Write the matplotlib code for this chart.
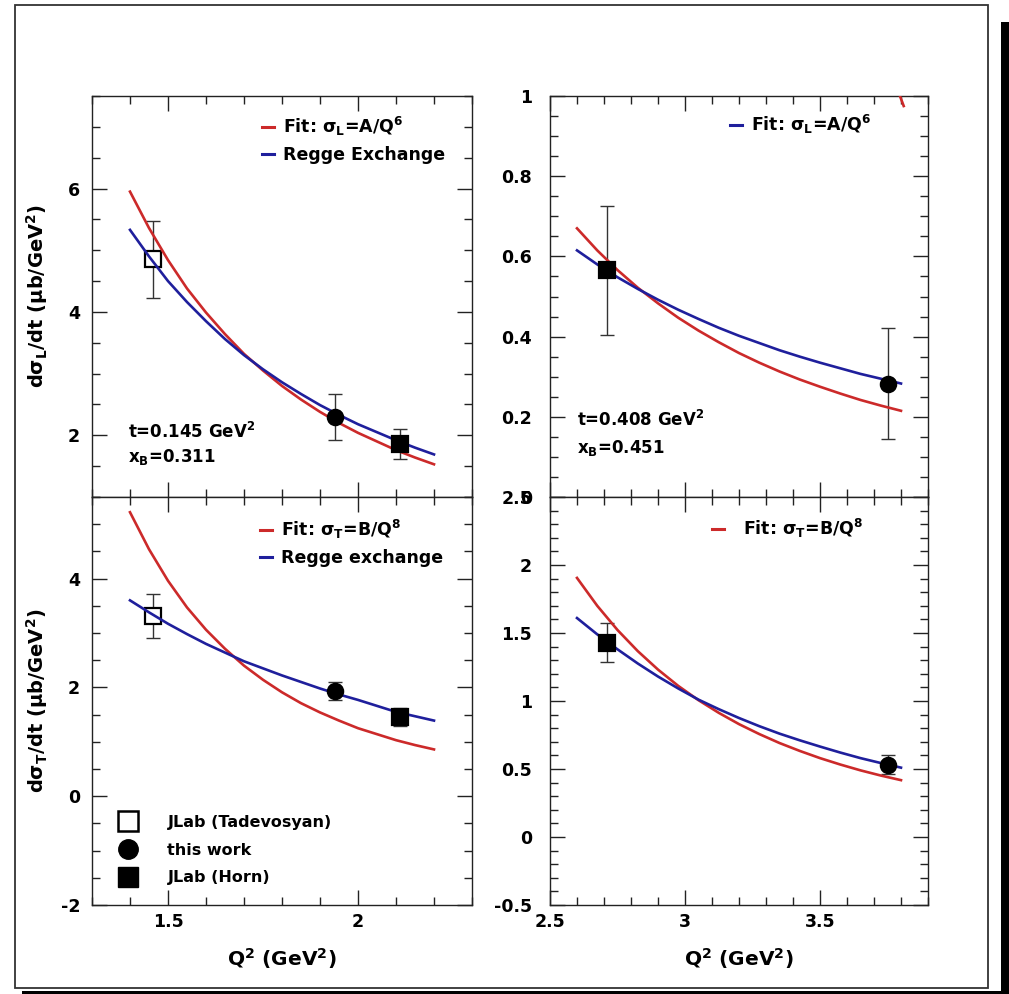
import matplotlib
matplotlib.use("Agg")
import matplotlib.pyplot as plt
from matplotlib.lines import Line2D
from matplotlib.patches import Rectangle
from matplotlib.ticker import MultipleLocator, FuncFormatter

# ---------------- data ----------------
# left panels: x_B = 0.311, t = 0.145 GeV^2
q_curve_left = [1.40, 1.45, 1.50, 1.55, 1.60, 1.65, 1.70, 1.75, 1.80,
                1.85, 1.90, 1.95, 2.00, 2.05, 2.10, 2.15, 2.20]
sigL_fit_left = [5.95, 5.36, 4.84, 4.38, 3.99, 3.64, 3.32, 3.05, 2.80,
                 2.58, 2.38, 2.20, 2.04, 1.90, 1.76, 1.64, 1.53]
sigL_regge_left = [5.33, 4.90, 4.50, 4.16, 3.85, 3.56, 3.30, 3.07, 2.86,
                   2.67, 2.49, 2.33, 2.18, 2.05, 1.92, 1.80, 1.69]
sigT_fit_left = [5.22, 4.54, 3.96, 3.47, 3.06, 2.71, 2.40, 2.14, 1.91,
                 1.71, 1.54, 1.39, 1.25, 1.14, 1.03, 0.94, 0.86]
sigT_regge_left = [3.60, 3.38, 3.17, 2.98, 2.80, 2.64, 2.48, 2.35, 2.22,
                   2.10, 1.98, 1.87, 1.77, 1.66, 1.55, 1.47, 1.39]

# right panels: x_B = 0.451, t = 0.408 GeV^2
q_curve_right = [2.600, 2.675, 2.750, 2.825, 2.900, 2.975, 3.050, 3.125, 3.200,
                 3.275, 3.350, 3.425, 3.500, 3.575, 3.650, 3.725, 3.800]
sigL_fit_right = [0.670, 0.615, 0.566, 0.522, 0.483, 0.447, 0.415, 0.386, 0.359,
                  0.335, 0.313, 0.293, 0.275, 0.258, 0.242, 0.228, 0.215]
sigL_regge_right = [0.615, 0.580, 0.548, 0.519, 0.492, 0.467, 0.444, 0.422, 0.402,
                    0.384, 0.366, 0.350, 0.335, 0.321, 0.307, 0.295, 0.283]
sigT_fit_right = [1.905, 1.70, 1.522, 1.367, 1.231, 1.111, 1.006, 0.913, 0.830,
                  0.757, 0.691, 0.633, 0.580, 0.533, 0.490, 0.452, 0.418]
sigT_regge_right = [1.61, 1.49, 1.38, 1.276, 1.18, 1.092, 1.01, 0.940, 0.875,
                    0.815, 0.76, 0.711, 0.665, 0.621, 0.58, 0.544, 0.51]
# short red piece entering the top-right frame
q_red_extra = [3.785, 3.81]
sigL_red_extra = [1.02, 0.975]

# data points, left panels
q_tad_left, q_this_left, q_horn_left = 1.46, 1.94, 2.11
sigL_tad_left, sigL_tad_left_err = 4.85, 0.63
sigL_this_left, sigL_this_left_err = 2.30, 0.37
sigL_horn_left, sigL_horn_left_err = 1.86, 0.24
sigT_tad_left, sigT_tad_left_err = 3.31, 0.40
sigT_this_left, sigT_this_left_err = 1.93, 0.17
sigT_horn_left, sigT_horn_left_err = 1.46, 0.17

# data points, right panels
q_horn_right, q_this_right = 2.71, 3.75
sigL_horn_right, sigL_horn_right_err = 0.565, 0.16
sigL_this_right, sigL_this_right_err = 0.283, 0.138
sigT_horn_right, sigT_horn_right_err = 1.43, 0.14
sigT_this_right, sigT_this_right_err = 0.53, 0.07

# ---------------- style ----------------
plt.rcParams["font.family"] = ["DejaVu Sans"]
plt.rcParams["font.weight"] = "bold"
plt.rcParams["mathtext.fontset"] = "dejavusans"
plt.rcParams["mathtext.default"] = "bf"

RED = "#cc2a2a"
BLUE = "#1f1f9c"
AXC = "#222222"
TICK_FS = 12.5
LEG_FS = 12.5
LW = 1.9

W, H = 1009, 994
fig = plt.figure(figsize=(W / 100, H / 100), dpi=100)
fig.patch.set_facecolor("white")


def rect(x0, x1, y0, y1):
    return [x0 / W, 1 - y1 / H, (x1 - x0) / W, (y1 - y0) / H]


ax_tl = fig.add_axes(rect(92, 472, 96, 497))
ax_bl = fig.add_axes(rect(92, 472, 497, 905))
ax_tr = fig.add_axes(rect(550, 928, 96, 497))
ax_br = fig.add_axes(rect(550, 928, 497, 905))

fmt = FuncFormatter(lambda v, p: f"{v:g}")


def style(ax, xlim, ylim, ymaj, ymin, show_x, ypad):
    ax.set_xlim(*xlim)
    ax.set_ylim(*ylim)
    ax.xaxis.set_major_locator(MultipleLocator(0.5))
    ax.xaxis.set_minor_locator(MultipleLocator(0.1))
    ax.yaxis.set_major_locator(MultipleLocator(ymaj))
    ax.yaxis.set_minor_locator(MultipleLocator(ymin))
    ax.xaxis.set_major_formatter(fmt)
    ax.yaxis.set_major_formatter(fmt)
    ax.tick_params(which="both", direction="in", top=True, right=True,
                   color=AXC, width=1.0, labelsize=TICK_FS, labelcolor="black")
    ax.tick_params(which="major", length=11)
    ax.tick_params(which="minor", length=5.5)
    ax.tick_params(axis="y", pad=ypad)
    ax.tick_params(axis="x", pad=6)
    if not show_x:
        ax.tick_params(axis="x", labelbottom=False)
    for s in ax.spines.values():
        s.set_color(AXC)
        s.set_linewidth(1.0)
    for lab in ax.get_xticklabels() + ax.get_yticklabels():
        lab.set_fontweight("bold")


style(ax_tl, (1.3, 2.3), (1.0, 7.5), 2, 0.5, False, 8.5)
style(ax_bl, (1.3, 2.3), (-2.0, 5.5), 2, 0.5, True, 8.5)
style(ax_tr, (2.5, 3.9), (0.0, 1.0), 0.2, 0.05, False, 13)
style(ax_br, (2.5, 3.9), (-0.5, 2.5), 0.5, 0.1, True, 13)


def points(ax, q, v, e, marker, face, zo=5):
    ax.errorbar([q], [v], yerr=[e], fmt="none", ecolor="#333333",
                elinewidth=1.0, capsize=5, capthick=1.0, zorder=3)
    ax.plot([q], [v], linestyle="none", marker=marker, markersize=11,
            markerfacecolor=face, markeredgecolor="black",
            markeredgewidth=1.6, zorder=zo)


# top-left: sigma_L
ax_tl.plot(q_curve_left, sigL_fit_left, color=RED, lw=LW, zorder=4)
ax_tl.plot(q_curve_left, sigL_regge_left, color=BLUE, lw=LW, zorder=4)
points(ax_tl, q_tad_left, sigL_tad_left, sigL_tad_left_err, "s", "white", zo=3.5)
points(ax_tl, q_this_left, sigL_this_left, sigL_this_left_err, "o", "black")
points(ax_tl, q_horn_left, sigL_horn_left, sigL_horn_left_err, "s", "black")

# bottom-left: sigma_T
ax_bl.plot(q_curve_left, sigT_fit_left, color=RED, lw=LW, zorder=4)
ax_bl.plot(q_curve_left, sigT_regge_left, color=BLUE, lw=LW, zorder=4)
points(ax_bl, q_tad_left, sigT_tad_left, sigT_tad_left_err, "s", "white", zo=3.5)
points(ax_bl, q_this_left, sigT_this_left, sigT_this_left_err, "o", "black")
points(ax_bl, q_horn_left, sigT_horn_left, sigT_horn_left_err, "s", "black")

# top-right: sigma_L
ax_tr.plot(q_curve_right, sigL_fit_right, color=RED, lw=LW, zorder=4)
ax_tr.plot(q_curve_right, sigL_regge_right, color=BLUE, lw=LW, zorder=4)
ax_tr.plot(q_red_extra, sigL_red_extra, color=RED, lw=LW, zorder=4)
points(ax_tr, q_horn_right, sigL_horn_right, sigL_horn_right_err, "s", "black")
points(ax_tr, q_this_right, sigL_this_right, sigL_this_right_err, "o", "black")

# bottom-right: sigma_T
ax_br.plot(q_curve_right, sigT_fit_right, color=RED, lw=LW, zorder=4)
ax_br.plot(q_curve_right, sigT_regge_right, color=BLUE, lw=LW, zorder=4)
points(ax_br, q_horn_right, sigT_horn_right, sigT_horn_right_err, "s", "black")
points(ax_br, q_this_right, sigT_this_right, sigT_this_right_err, "o", "black")

# ---------------- legends ----------------
def line_legend(ax, entries, anchor, textpad=0.5):
    handles = [Line2D([], [], color=c, lw=2.2) for c, _ in entries]
    labels = [t for _, t in entries]
    leg = ax.legend(handles, labels, loc="upper left", bbox_to_anchor=anchor,
                    frameon=False, fontsize=LEG_FS, handlelength=0.7,
                    handletextpad=textpad, labelspacing=0.42, borderpad=0,
                    borderaxespad=0)
    leg.set_zorder(10)
    return leg


line_legend(ax_tl, [(RED, r"Fit: σ$_{L}$=A/Q$^{6}$"), (BLUE, "Regge Exchange")],
            (0.447, 0.952))
leg_bl = line_legend(ax_bl, [(RED, r"Fit: σ$_{T}$=B/Q$^{8}$"),
                             (BLUE, "Regge exchange")], (0.442, 0.948))
ax_bl.add_artist(leg_bl)
line_legend(ax_tr, [(BLUE, r"Fit: σ$_{L}$=A/Q$^{6}$")], (0.476, 0.957))
line_legend(ax_br, [(RED, r"Fit: σ$_{T}$=B/Q$^{8}$")], (0.429, 0.952), textpad=1.1)

mk_handles = [
    Line2D([], [], linestyle="none", marker="s", markersize=14,
           markerfacecolor="white", markeredgecolor="black", markeredgewidth=1.8),
    Line2D([], [], linestyle="none", marker="o", markersize=14,
           markerfacecolor="black", markeredgecolor="black"),
    Line2D([], [], linestyle="none", marker="s", markersize=14,
           markerfacecolor="black", markeredgecolor="black"),
]
mk_leg = ax_bl.legend(mk_handles, ["JLab (Tadevosyan)", "this work", "JLab (Horn)"],
                      loc="upper left", bbox_to_anchor=(0.066, 0.221), frameon=False,
                      fontsize=11.5, handlelength=1.4, handletextpad=1.75,
                      labelspacing=0.8, borderpad=0, borderaxespad=0)
mk_leg.set_zorder(10)

# ---------------- annotations ----------------
ax_tl.text(0.095, 0.162, r"t=0.145 GeV$^{2}$", transform=ax_tl.transAxes,
           fontsize=12, fontweight="bold", va="center", ha="left")
ax_tl.text(0.095, 0.100, r"x$_{B}$=0.311", transform=ax_tl.transAxes,
           fontsize=12, fontweight="bold", va="center", ha="left")
ax_tr.text(0.071, 0.192, r"t=0.408 GeV$^{2}$", transform=ax_tr.transAxes,
           fontsize=12, fontweight="bold", va="center", ha="left")
ax_tr.text(0.071, 0.122, r"x$_{B}$=0.451", transform=ax_tr.transAxes,
           fontsize=12, fontweight="bold", va="center", ha="left")

# ---------------- axis labels ----------------
ax_tl.set_ylabel(r"dσ$_{L}$/dt (μb/GeV$^{2}$)", fontsize=14, fontweight="bold")
ax_tl.yaxis.set_label_coords(-0.11, 0.5)
ax_bl.set_ylabel(r"dσ$_{T}$/dt (μb/GeV$^{2}$)", fontsize=14, fontweight="bold")
ax_bl.yaxis.set_label_coords(-0.11, 0.5)
for ax in (ax_bl, ax_br):
    ax.set_xlabel(r"Q$^{2}$ (GeV$^{2}$)", fontsize=14.5, fontweight="bold")
    ax.xaxis.set_label_coords(0.5, -0.10)

# ---------------- outer frame with shadow ----------------
fig.add_artist(Rectangle((15 / W, 1 - 988 / H), (988 - 15) / W, (988 - 5) / H,
                         transform=fig.transFigure, fill=False, lw=1.3,
                         edgecolor="#333333", zorder=0))
fig.add_artist(Rectangle((1001 / W, 0), 8 / W, (994 - 22) / H,
                         transform=fig.transFigure, facecolor="black",
                         edgecolor="none", zorder=0))
fig.add_artist(Rectangle((22 / W, 0), (1009 - 22) / W, 3.5 / H,
                         transform=fig.transFigure, facecolor="black",
                         edgecolor="none", zorder=0))

fig.savefig("out.png", dpi=100, facecolor="white")
